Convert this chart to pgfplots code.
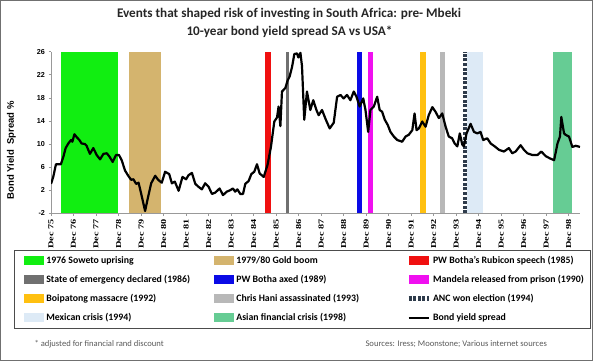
\documentclass[border=0pt]{standalone}
\usepackage{pgfplots}
\pgfplotsset{compat=1.18}
\usepackage{fontspec}
\setmainfont{Carlito}
\newfontfamily\arialfont{Liberation Sans}
\newfontfamily\timesfont[FakeStretch=1.35]{Liberation Serif}
\definecolor{soweto}{HTML}{11EE11}
\definecolor{gold}{HTML}{D4B46E}
\definecolor{rubicon}{HTML}{F01010}
\definecolor{emerg}{HTML}{707070}
\definecolor{axed}{HTML}{0A0AE6}
\definecolor{mandela}{HTML}{F010F0}
\definecolor{boipatong}{HTML}{FFC010}
\definecolor{hani}{HTML}{B8B8B8}
\definecolor{anc}{HTML}{2E3B4B}
\definecolor{mexican}{HTML}{DDEAF6}
\definecolor{asian}{HTML}{66CC94}
\definecolor{framegray}{HTML}{707070}
\pgfplotsset{
  bandleg/.style={legend image code/.code={\fill[##1] (0pt,-4.5pt) rectangle (20pt,4.5pt);}},
  lineleg/.style={legend image code/.code={\draw[##1] (0pt,0pt) -- (20pt,0pt);}},
}
\begin{document}
\begin{tikzpicture}
\useasboundingbox (0,0) rectangle (593pt,361pt);
\draw[framegray, line width=1.2pt] (0.8pt,0.8pt) rectangle (592.2pt,360.2pt);
\node[font=\bfseries\fontsize{13.2}{15}\selectfont, text=black!85] at (289pt,347pt) {Events that shaped risk of investing in South Africa: pre- Mbeki};
\node[font=\bfseries\fontsize{13.2}{15}\selectfont, text=black!85] at (289.5pt,329pt) {10-year bond yield spread SA vs USA*};
\node[anchor=west, font=\fontsize{8.6}{10}\selectfont, text=black!65] at (31pt,17pt) {* adjusted for financial rand discount};
\node[anchor=west, font=\fontsize{8.6}{10}\selectfont, text=black!65] at (362pt,17pt) {Sources: Iress; Moonstone; Various internet sources};
\begin{axis}[
  at={(51pt,147.7pt)}, anchor=south west,
  scale only axis, width=529pt, height=161.6pt,
  xmin=0, xmax=23.5, ymin=-2, ymax=26,
  axis lines=left, axis line style={-, draw=gray!80, line width=0.8pt},
  xtick={0,...,23},
  xticklabels={Dec 75,Dec 76,Dec 77,Dec 78,Dec 79,Dec 80,Dec 81,Dec 82,Dec 83,Dec 84,Dec 85,Dec 86,Dec 87,Dec 88,Dec 89,Dec 90,Dec 91,Dec 92,Dec 93,Dec 94,Dec 95,Dec 96,Dec 97,Dec 98},
  ytick={-2,2,...,26},
  tick align=outside, major tick length=2.5pt,
  tick style={draw=gray!80, line width=0.6pt},
  x tick label style={rotate=90, anchor=east, font=\timesfont\bfseries\fontsize{7.6}{9}\selectfont},
  y tick label style={font=\arialfont\bfseries\fontsize{7.2}{8}\selectfont},
  /pgf/number format/assume math mode=true,
  ylabel={Bond Yield\ \ Spread \%},
  ylabel style={at={(axis description cs:-0.06,0.39)}, font=\arialfont\bfseries\fontsize{9.5}{11}\selectfont},
  legend columns=3,
  legend style={at={(axis description cs:-0.0699,-0.2271)}, anchor=north west,
    draw=black!70, line width=0.6pt, inner xsep=10pt, inner ysep=1pt,
    cells={anchor=west},
    nodes={inner xsep=2pt, inner ysep=0pt, minimum height=19pt},
    font=\bfseries\fontsize{9.8}{11}\selectfont},
]
\addplot[fill=soweto, draw=none, bandleg] coordinates {(0.43,-2) (2.97,-2) (2.97,26) (0.43,26)};
\addlegendentry{\makebox[166pt][l]{1976 Soweto uprising}}
\addplot[fill=gold, draw=none, bandleg] coordinates {(3.48,-2) (4.89,-2) (4.89,26) (3.48,26)};
\addlegendentry{\makebox[168pt][l]{1979/80 Gold boom}}
\addplot[fill=rubicon, draw=none, bandleg] coordinates {(9.52,-2) (9.79,-2) (9.79,26) (9.52,26)};
\addlegendentry{\makebox[145pt][l]{PW Botha's Rubicon speech (1985)}}
\addplot[fill=emerg, draw=none, bandleg] coordinates {(10.45,-2) (10.57,-2) (10.57,26) (10.45,26)};
\addlegendentry{\makebox[166pt][l]{State of emergency declared (1986)}}
\addplot[fill=axed, draw=none, bandleg] coordinates {(13.6,-2) (13.8,-2) (13.8,26) (13.6,26)};
\addlegendentry{\makebox[168pt][l]{PW Botha axed (1989)}}
\addplot[fill=mandela, draw=none, bandleg] coordinates {(14.09,-2) (14.31,-2) (14.31,26) (14.09,26)};
\addlegendentry{\makebox[145pt][l]{Mandela released from prison (1990)}}
\addplot[fill=boipatong, draw=none, bandleg] coordinates {(16.41,-2) (16.65,-2) (16.65,26) (16.41,26)};
\addlegendentry{\makebox[166pt][l]{Boipatong massacre (1992)}}
\addplot[fill=hani, draw=none, bandleg] coordinates {(17.26,-2) (17.51,-2) (17.51,26) (17.26,26)};
\addlegendentry{\makebox[168pt][l]{Chris Hani assassinated (1993)}}
\addplot[draw=anc, line width=4.7pt, dash pattern=on 3pt off 1.6pt, lineleg] coordinates {(18.385,-2) (18.385,26)};
\addlegendentry{\makebox[145pt][l]{ANC won election (1994)}}
\addplot[fill=mexican, draw=none, bandleg] coordinates {(18.49,-2) (19.17,-2) (19.17,26) (18.49,26)};
\addlegendentry{\makebox[166pt][l]{Mexican crisis (1994)}}
\addplot[fill=asian, draw=none, bandleg] coordinates {(22.3,-2) (23.16,-2) (23.16,26) (22.3,26)};
\addlegendentry{\makebox[168pt][l]{Asian financial crisis (1998)}}
\addplot[black, line width=2.2pt, line join=round, lineleg] coordinates {
(0.00,3.1) (0.10,4.3) (0.22,6.5) (0.44,6.5) (0.55,7.8) (0.65,9.3) (0.77,10.1) (0.89,10.7)
(0.95,10.4) (1.04,11.7) (1.14,11.2) (1.26,10.7) (1.36,10.1) (1.51,10.0) (1.58,9.7) (1.73,8.3)
(1.88,9.3) (2.03,8.1) (2.18,7.35) (2.33,8.3) (2.48,8.4) (2.60,7.8) (2.74,6.9) (2.89,8.1)
(3.02,8.1) (3.14,7.2) (3.29,5.4) (3.44,4.45) (3.56,3.8) (3.66,3.9) (3.78,3.1) (3.89,3.3)
(4.00,1.5) (4.18,-1.6) (4.30,0.6) (4.45,3.2) (4.63,4.5) (4.76,3.8) (4.92,3.3) (5.07,5.2)
(5.25,4.8) (5.37,3.2) (5.50,3.5) (5.67,1.9) (5.84,4.3) (6.00,3.9) (6.11,4.6) (6.26,5.0)
(6.41,3.1) (6.55,2.6) (6.70,2.15) (6.85,3.2) (7.00,2.6) (7.15,1.35) (7.30,1.6) (7.49,2.3)
(7.64,1.15) (7.81,1.75) (7.96,2.0) (8.08,2.3) (8.18,1.75) (8.28,2.15) (8.41,1.35) (8.53,1.35)
(8.63,3.1) (8.78,3.6) (8.90,4.8) (9.03,5.2) (9.15,6.5) (9.27,4.9) (9.45,4.3) (9.62,6.4)
(9.77,9.5) (9.92,13.9) (10.04,14.6) (10.11,16.5) (10.19,13.1) (10.26,19.1) (10.41,19.7) (10.51,21.0)
(10.60,21.7) (10.71,23.4) (10.81,25.6) (10.93,25.7) (10.99,25.0) (11.08,25.8) (11.15,23.5) (11.25,14.2)
(11.37,19.1) (11.52,15.9) (11.65,17.6) (11.79,15.9) (11.89,15.0) (12.04,15.9) (12.19,14.4) (12.38,12.7)
(12.56,13.7) (12.71,18.2) (12.86,18.5) (13.00,17.9) (13.15,18.5) (13.30,17.6) (13.45,19.1) (13.57,18.2)
(13.71,16.5) (13.87,17.9) (13.97,15.9) (14.09,12.1) (14.19,15.9) (14.34,16.5) (14.49,18.2) (14.60,15.9)
(14.71,15.6) (14.83,14.2) (14.96,13.3) (15.08,12.1) (15.23,11.3) (15.38,10.7) (15.60,10.4) (15.75,11.3)
(15.89,11.6) (16.05,12.4) (16.15,15.3) (16.24,12.4) (16.34,12.7) (16.49,13.9) (16.64,13.0) (16.78,15.0)
(16.94,16.4) (17.08,15.6) (17.23,14.5) (17.38,15.3) (17.53,13.0) (17.67,11.3) (17.82,11.0) (17.93,10.1)
(18.05,9.6) (18.16,11.85) (18.27,9.9) (18.34,9.6) (18.46,11.85) (18.64,13.5) (18.79,12.1) (18.94,11.85)
(19.08,12.1) (19.20,10.7) (19.38,11.0) (19.53,10.1) (19.71,9.6) (19.90,9.0) (20.12,8.7) (20.34,9.3)
(20.49,8.4) (20.64,8.7) (20.86,9.8) (21.01,9.0) (21.16,8.4) (21.38,8.1) (21.61,8.1) (21.78,8.7)
(21.98,7.9) (22.17,7.5) (22.35,7.2) (22.50,10.1) (22.61,11.3) (22.67,14.7) (22.79,11.85) (22.86,11.6)
(23.01,11.3) (23.16,9.5) (23.31,9.7) (23.50,9.5)
};
\addlegendentry{\makebox[145pt][l]{Bond yield spread}}
\end{axis}
\end{tikzpicture}
\end{document}
